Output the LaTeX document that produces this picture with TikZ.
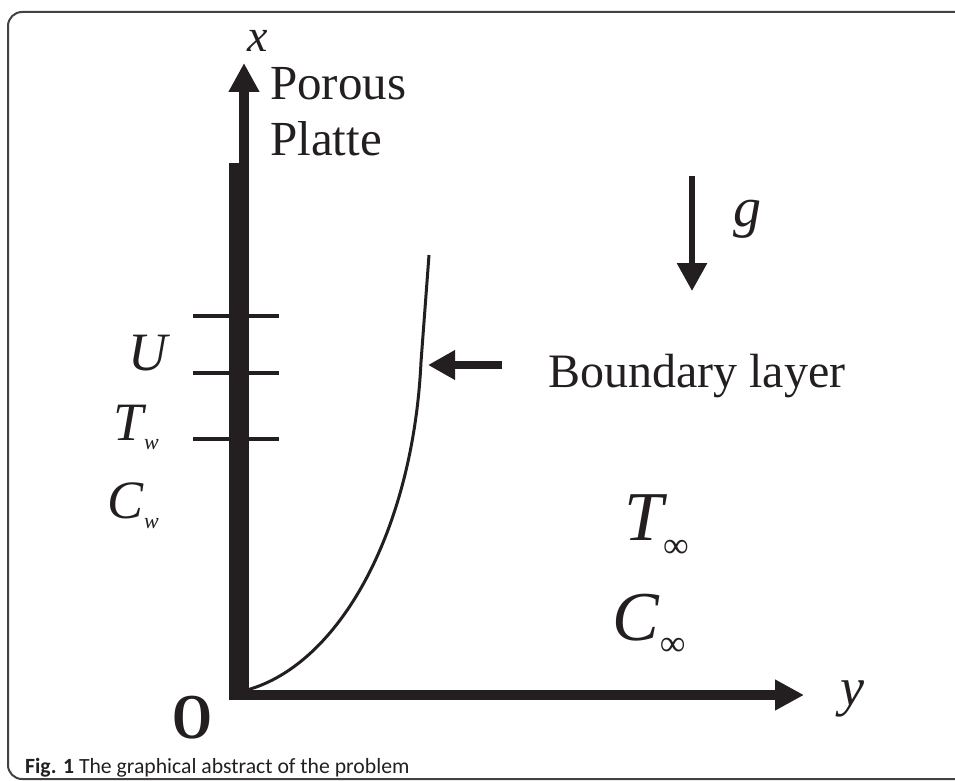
\documentclass[tikz,border=0pt]{standalone}
\usepackage{fontspec}
\setmainfont{Liberation Serif}
\setsansfont{Carlito}
\usepackage{xcolor}
\usepackage{tikz}
\usetikzlibrary{arrows.meta,positioning}
\definecolor{ink}{RGB}{35,31,32}
\newcommand{\subsym}[6]{{\fontsize{#1}{#1}\selectfont\itshape #2}\kern#3pt\raisebox{#4pt}{\fontsize{#5}{#5}\selectfont #6}}

\begin{document}
\begin{tikzpicture}[x=1pt,y=-1pt,
lbl/.style={inner sep=0pt,anchor=base west,text=ink},
axis/.style={ink,line width=10pt,-{Triangle[length=29pt,width=29pt]}},
tick/.style={ink,line width=3.3pt},
layer/.style={ink,line width=3pt},
garrow/.style={ink,line width=6pt,-{Triangle[length=28pt,width=29pt]}},
barrow/.style={ink,line width=8pt,-{Triangle[length=27pt,width=28pt]}}]
\useasboundingbox(0,0)rectangle(955,781);
\draw[ink!85,line width=2pt,rounded corners=14pt](8,12)rectangle(1000,779);
\fill[ink](229,163)rectangle(249,700);
\coordinate(xfoot)at(244,170);
\coordinate(xtip)at(244,63);
\coordinate(yfoot)at(236,695);
\coordinate(ytip)at(804,695);
\draw[axis](xfoot)--(xtip);
\draw[axis](yfoot)--(ytip);
\foreach \yy in {316,373,439}
\draw[tick](193,\yy)--(279,\yy);
\coordinate(blfoot)at(247,690);
\coordinate(bljoin)at(421,362);
\coordinate(bltop)at(429,255);
\draw[layer](blfoot)..controls(340,664)and(413,530)..(bljoin)--(bltop);
\coordinate(gtail)at(692,176);
\coordinate(ghead)at(692,291);
\draw[garrow](gtail)--(ghead);
\coordinate(btail)at(502,365);
\coordinate(bhead)at(428,365);
\draw[barrow](btail)--(bhead);
\node[lbl,font=\itshape\fontsize{46}{46}\selectfont](xlbl)at(247,52){x};
\node[lbl,font=\fontsize{49}{49}\selectfont](porous)at(270,100){Porous};
\node[lbl,font=\fontsize{49}{49}\selectfont](platte)at(270,155){Platte};
\node[lbl,font=\itshape\fontsize{56}{56}\selectfont](glbl)at(733,226){g};
\node[lbl,font=\fontsize{48}{48}\selectfont](blayer)at(548,387){Boundary layer};
\node[lbl,font=\itshape\fontsize{54}{54}\selectfont](ulbl)at(128,370){U};
\node[lbl](twall)at(113,440){\subsym{54}{T}{1}{-9}{22}{\itshape w}};
\node[lbl](cwall)at(107,518){\subsym{54}{C}{1}{-10}{22}{\itshape w}};
\node[lbl](tinf)at(624,540){\subsym{70}{T}{0}{-17}{36}{∞}};
\node[lbl](cinf)at(612,640){\subsym{70}{C}{1}{-15}{36}{∞}};
\node[lbl,font=\bfseries\fontsize{64}{64}\selectfont,xscale=0.8](olbl)at(172,738){O};
\node[lbl,font=\itshape\fontsize{54}{54}\selectfont](ylbl)at(840,705){y};
\node[lbl,font=\sffamily\fontsize{21.7}{21.7}\selectfont](caption)at(25,773){\textbf{Fig. 1} The graphical abstract of the problem};
\end{tikzpicture}
\end{document}
